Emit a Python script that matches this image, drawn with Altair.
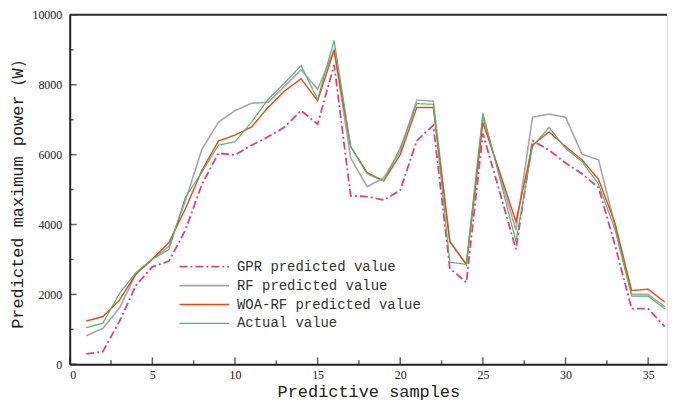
import altair as alt
import pandas as pd

samples = list(range(1, 37))
gpr = [300, 360, 1220, 2250, 2790, 2950, 3840, 5150, 6040, 5990, 6270, 6510, 6790, 7260, 6870, 8570, 4820, 4800,
       4700, 4980, 6400, 6840, 2750, 2340, 6600, 4960, 3290, 6400, 6130, 5760, 5450, 5050, 3400, 1590, 1590, 1080]
rf = [815, 1030, 1600, 2580, 3010, 3370, 4680, 6150, 6930, 7260, 7470, 7500, 7950, 8430, 7870, 8990, 5900, 5080,
      5340, 6100, 7560, 7530, 3510, 2850, 7080, 5450, 3840, 7070, 7160, 7070, 6010, 5850, 3950, 2000, 2000, 1650]
woa = [1240, 1360, 1830, 2580, 3010, 3480, 4450, 5550, 6390, 6560, 6790, 7350, 7820, 8170, 7540, 8990, 6230, 5480,
       5250, 6000, 7350, 7350, 3510, 2860, 6920, 5520, 4080, 6270, 6650, 6230, 5850, 5290, 4030, 2110, 2150, 1780]
act = [1050, 1170, 2020, 2620, 3010, 3280, 4780, 5500, 6270, 6370, 6930, 7580, 8050, 8550, 7580, 9270, 6230, 5450,
       5240, 6200, 7460, 7440, 2920, 2860, 7190, 5360, 3510, 6230, 6780, 6180, 5800, 5150, 3850, 1950, 1950, 1590]

series_names = ["GPR predicted value", "RF predicted value", "WOA-RF predicted value", "Actual value"]
colors = ["#e2417c", "#a9a6a6", "#e8481c", "#4cb86b"]
dashes = [[8, 3, 2, 3], [1, 0], [1, 0], [1, 0]]
widths = [1.8, 1.2, 1.7, 2.6]

x_major = [0, 5, 10, 15, 20, 25, 30, 35]
x_minor = [2.5, 7.5, 12.5, 17.5, 22.5, 27.5, 32.5]
y_major = [0, 2000, 4000, 6000, 8000, 10000]
y_minor = [1000, 3000, 5000, 7000, 9000]

rows = []
for name, vals in zip(series_names, [gpr, rf, woa, act]):
    for s, v in zip(samples, vals):
        rows.append({"sample": s, "power": v, "series": name, "order": series_names.index(name)})
df = pd.DataFrame(rows)

XMAX = 36.14
W, H = 600, 351
xscale = alt.Scale(domain=[0, XMAX], nice=False, zero=False)
yscale = alt.Scale(domain=[0, 10000], nice=False)

lines = alt.Chart(df).mark_line(clip=True).encode(
    x=alt.X("sample:Q", scale=xscale,
            axis=alt.Axis(values=x_major, format="d", title="Predictive samples", ticks=False, grid=False,
                          labelFont="Liberation Serif", labelFontSize=12, labelColor="#222",
                          labelPadding=5, titleFont="Liberation Mono", titleFontSize=17,
                          titleFontWeight="normal", titleColor="#222", titlePadding=3,
                          domainColor="#222", domainWidth=2)),
    y=alt.Y("power:Q", scale=yscale,
            axis=alt.Axis(values=y_major, format="d", title="Predicted maximum power（W）", ticks=False,
                          grid=False, labelFont="Liberation Serif", labelFontSize=12, labelColor="#222",
                          labelPadding=8, titleFont="Liberation Mono", titleFontSize=17,
                          titleFontWeight="normal", titleColor="#222", titlePadding=5,
                          domainColor="#222", domainWidth=2)),
    color=alt.Color("series:N", scale=alt.Scale(domain=series_names, range=colors),
                    legend=alt.Legend(title=None, orient="none", legendX=145, legendY=245, padding=0,
                                      symbolType="M-6.1,0H1", symbolSize=196, labelLimit=400,
                                      labelFont="Liberation Mono", labelFontSize=14,
                                      labelColor="#333", rowPadding=4, labelOffset=7)),
    strokeDash=alt.StrokeDash("series:N", scale=alt.Scale(domain=series_names, range=dashes), legend=None),
    strokeWidth=alt.StrokeWidth("series:N", scale=alt.Scale(domain=series_names, range=widths), legend=None),
    order="order:Q",
    detail="series:N",
)

xmaj = alt.Chart(pd.DataFrame({"sample": x_major})).mark_tick(
    orient="vertical", color="#222", size=7, thickness=1.5, yOffset=-3.5).encode(
    x=alt.X("sample:Q", scale=xscale), y=alt.datum(0, scale=yscale))
xmin = alt.Chart(pd.DataFrame({"sample": x_minor})).mark_tick(
    orient="vertical", color="#222", size=4, thickness=1.5, yOffset=-2).encode(
    x=alt.X("sample:Q", scale=xscale), y=alt.datum(0, scale=yscale))
ymaj = alt.Chart(pd.DataFrame({"power": y_major})).mark_tick(
    orient="horizontal", color="#222", size=7, thickness=1.5, xOffset=3.5).encode(
    y=alt.Y("power:Q", scale=yscale), x=alt.datum(0, scale=xscale))
ymin = alt.Chart(pd.DataFrame({"power": y_minor})).mark_tick(
    orient="horizontal", color="#222", size=4, thickness=1.5, xOffset=2).encode(
    y=alt.Y("power:Q", scale=yscale), x=alt.datum(0, scale=xscale))
top = alt.Chart(pd.DataFrame({"power": [10000]})).mark_rule(color="#333", strokeWidth=2).encode(
    y=alt.Y("power:Q", scale=yscale), x=alt.datum(0, scale=xscale), x2=alt.datum(XMAX))

chart = alt.layer(lines, xmaj, xmin, ymaj, ymin, top).properties(
    width=W, height=H,
    padding={"left": 1, "top": 0, "right": 0, "bottom": 0},
).configure_view(strokeWidth=0).configure(background="white")

chart.save("out.html", embed_options={"renderer": "svg", "actions": False})
